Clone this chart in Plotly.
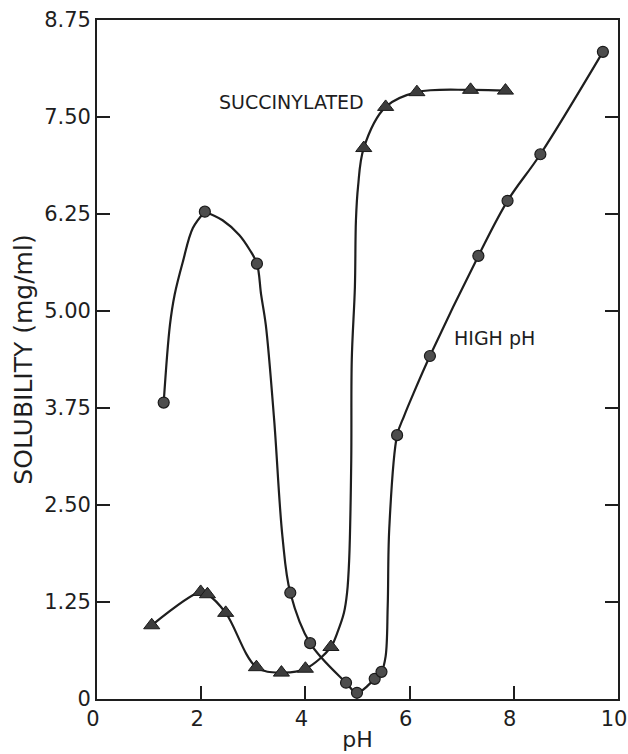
import plotly.graph_objects as go

# Measured solubility, native protein (circles)
native_ph = [1.28, 2.07, 3.07, 3.71, 4.09, 4.78, 4.99, 5.33, 5.46, 5.76, 6.39, 7.32, 7.88, 8.51, 9.71]
native_sol = [3.82, 6.28, 5.61, 1.37, 0.72, 0.21, 0.08, 0.26, 0.35, 3.40, 4.42, 5.71, 6.42, 7.02, 8.34]

# Measured solubility, succinylated protein (triangles)
succ_ph = [1.05, 1.99, 2.12, 2.47, 3.06, 3.54, 4.00, 4.49, 5.12, 5.54, 6.14, 7.17, 7.84]
succ_sol = [0.95, 1.38, 1.35, 1.11, 0.41, 0.34, 0.39, 0.67, 7.10, 7.63, 7.82, 7.85, 7.84]

# Hand-drawn curve for the native series: a rising arm up to the acid peak,
# then one continuous stroke down through the minimum and up to high pH
native_arm_ph = [1.28, 1.40, 1.49, 1.65, 1.84, 2.07]
native_arm_sol = [3.82, 4.82, 5.21, 5.64, 6.07, 6.28]
native_curve_ph = [2.07, 2.41, 2.73, 2.93, 3.07, 3.15, 3.24, 3.40, 3.56, 3.71,
                   4.09, 4.78, 4.99, 5.33, 5.46, 5.54, 5.58, 5.61, 5.76,
                   5.89, 6.05, 6.39, 7.32, 7.88, 8.51, 9.71]
native_curve_sol = [6.28, 6.17, 5.98, 5.79, 5.61, 5.21, 4.82, 3.60, 2.09, 1.37,
                    0.72, 0.21, 0.08, 0.26, 0.35, 0.55, 1.20, 2.20, 3.40,
                    3.64, 3.90, 4.42, 5.71, 6.42, 7.02, 8.34]

# Hand-drawn curve for the succinylated series
succ_curve_ph = [1.05, 1.99, 2.12, 2.47, 3.06, 3.54, 4.00, 4.49, 4.61, 4.74, 4.80, 4.84, 4.88,
                 4.89, 4.95, 4.97, 5.01, 5.12, 5.54, 6.14, 7.17, 7.84]
succ_curve_sol = [0.95, 1.38, 1.35, 1.11, 0.41, 0.34, 0.39, 0.67, 0.85, 1.11, 1.37, 1.79, 3.08,
                  4.37, 5.31, 6.17, 6.60, 7.10, 7.63, 7.82, 7.85, 7.84]

# Axis ticks
x_ticks = [0, 2, 4, 6, 8, 10]
x_tick_text = ["0", "2", "4", "6", "8", "10"]
y_ticks = [0, 1.25, 2.5, 3.75, 5.0, 6.25, 7.5, 8.75]
y_tick_text = ["0", "1.25", "2.50", "3.75", "5.00", "6.25", "7.50", "8.75"]

FONT = "DejaVu Sans"
INK = "#1e1e1e"

fig = go.Figure()

for cx, cy in [(native_arm_ph, native_arm_sol),
               (native_curve_ph, native_curve_sol),
               (succ_curve_ph, succ_curve_sol)]:
    fig.add_trace(go.Scatter(x=cx, y=cy, mode="lines",
                             line=dict(color=INK, width=2.2, shape="spline", smoothing=1.0),
                             hoverinfo="skip", showlegend=False))

fig.add_trace(go.Scatter(x=native_ph, y=native_sol, mode="markers", name="High pH",
                         marker=dict(symbol="circle", size=11, color="#4d4d4d",
                                     line=dict(color="#1a1a1a", width=1.2)),
                         showlegend=False))
fig.add_trace(go.Scatter(x=succ_ph, y=succ_sol, mode="markers", name="Succinylated",
                         marker=dict(symbol="triangle-up", size=14, color="#3c3c3c",
                                     line=dict(color="#1a1a1a", width=1)),
                         showlegend=False))

fig.add_annotation(x=3.73, y=7.69, text="SUCCINYLATED", showarrow=False,
                   font=dict(family=FONT, size=19, color=INK))
fig.add_annotation(x=7.63, y=4.65, text="HIGH pH", showarrow=False,
                   font=dict(family=FONT, size=19, color=INK))

fig.update_xaxes(range=[0, 10], tickvals=x_ticks, ticktext=x_tick_text,
                 ticks="inside", ticklen=13, tickwidth=1.5, tickcolor=INK,
                 ticklabelshift=-4, automargin=False,
                 showline=True, linecolor=INK, linewidth=1.8, mirror=True,
                 showgrid=False, zeroline=False,
                 tickfont=dict(family=FONT, size=21, color=INK),
                 title=dict(text="pH", font=dict(family=FONT, size=22, color=INK), standoff=2))
fig.update_yaxes(range=[0, 8.75], tickvals=y_ticks, ticktext=y_tick_text,
                 ticks="inside", ticklen=13, tickwidth=1.5, tickcolor=INK,
                 automargin=False,
                 showline=True, linecolor=INK, linewidth=1.8, mirror="ticks",
                 showgrid=False, zeroline=False,
                 tickfont=dict(family=FONT, size=21, color=INK),
                 title=dict(text="SOLUBILITY (mg/ml)", font=dict(family=FONT, size=25, color=INK),
                            standoff=4))

fig.update_layout(width=628, height=754, margin=dict(l=97, r=10, t=20, b=55),
                  plot_bgcolor="white", paper_bgcolor="white")

fig.write_html("out.html")
